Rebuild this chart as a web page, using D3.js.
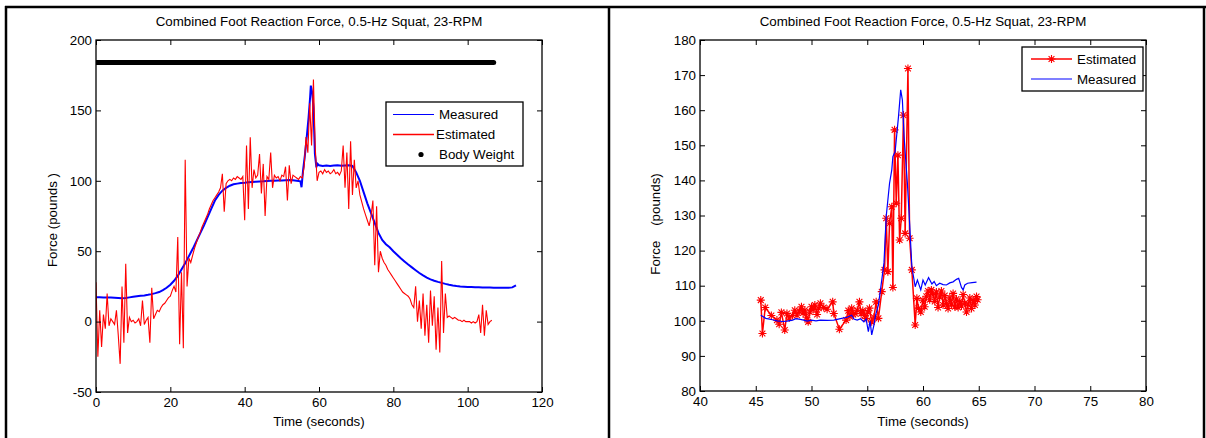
<!DOCTYPE html>
<html>
<head>
<meta charset="utf-8">
<script src="https://cdn.jsdelivr.net/npm/d3@7"></script>
<style>
body { margin: 0; background: #fff; }
svg { font-family: "Liberation Sans", Arial, sans-serif; font-size: 13.33px; }
</style>
</head>
<body>
<svg id="chart" width="1206" height="438"></svg>
<script>
// ---- left panel: whole trial ----
const titleText = "Combined Foot Reaction Force, 0.5-Hz Squat, 23-RPM";

const measTime = [0,1,2,3,4,5,6,7,8,9,10,11,12,13,14,15,16,17,18,19,20,21,22,23,24,25,26,27,28,29,30,
  31,32,33,34,35,36,37,38,39,40,41,42,43,44,45,46,47,48,49,50,51,52,53,54,55,55.3,55.7,56.2,56.7,57.2,
  57.6,57.8,58.2,58.5,58.9,59.3,59.6,60,61,62,63,64,65,66,67,68,69,70,71,72,73,74,75,76,77,78,79,80,
  81,82,83,84,85,86,87,88,89,90,91,92,93,94,95,96,97,98,99,100,101,102,103,104,105,106,107,108,109,
  110,111,112,113];
const measForce = [17.3,17.3,17.2,17.2,17.1,17.0,16.8,16.6,16.8,17.2,17.6,18.0,18.3,18.6,19.0,19.5,
  20.2,21.0,22.3,24.0,26.2,29.0,32.5,37.0,41.5,46.5,51.5,57,62.5,68,74,80,86,90,93,95,96.5,97.5,98,
  98.5,98.7,99,99.2,99.4,99.5,99.6,99.8,100,100,100.2,100.3,100.4,100.5,100.4,100,99.6,95.4,107,118,
  131,145,159,167.6,162,152,119,109.6,112,111,110.5,110.8,110.6,110.8,111,110.7,110.9,111,110.5,106,
  100,92,84,77,70,63,58,55,52.8,50,47.5,45,42.7,40.5,38.5,36.5,34.5,32.8,31.2,30,29,28.2,27.5,26.8,
  26.2,25.7,25.3,25,24.8,24.6,24.5,24.4,24.4,24.3,24.2,24.2,24.1,24.1,24,24,24,24.3,25.8];

// estimated force, one value every half second from t = 0
const estStep = 0.5;
const estForce = [28,-25,8,-18,5,-5,20,-3,2,0,-2,8,-10,-30,25,-15,41,-8,3,0,1,-1,0,2,-3,15,-2,1,3,-15,
  24,2,5,8,7,10,12,13,15,17,18,22,25,21,60,-16,35,-19,115,25,45,42,47,52,56,60,63,67,70,73,76,80,83,86,
  88,90,92,95,105,78,98,100,101,100,102,101,103,102,101,103,72,125,80,131,95,108,102,104,119,91,112,75,
  103,101,120,95,104,102,103,100,104,103,110,86,111,98,104,103,102,101,103,102,110,131,120,155,125,172,
  123,100,106,107,105,108,106,107,105,106,108,105,106,104,107,125,95,120,80,128,90,115,95,100,90,85,80,
  76,72,68,75,86,40,82,35,50,45,42,40,37,35,33,31,29,27,25,23,21,20,19,18,16,12,10,25,0,15,-5,20,-10,
  12,-15,22,-3,18,-20,10,-22,43,-8,20,3,4,3,2,3,2,1,1,0,1,0,0,0,-1,0,-1,0,5,-8,12,-10,8,-2,0,1];

const bodyWeight = 184;
const bodyWeightSpan = [0, 107];

const leftXTicks = [0, 20, 40, 60, 80, 100, 120];
const leftYTicks = [-50, 0, 50, 100, 150, 200];

// ---- right panel: zoom on the peak ----
const zEstTime = [45.45,45.6,45.85,46.4,46.9,47.1,47.3,47.6,47.8,48.0,48.3,48.5,48.7,48.9,49.1,49.25,
  49.4,49.55,49.7,49.85,50.0,50.15,50.3,50.5,50.65,50.8,51.1,51.4,51.9,52.0,52.5,53.1,53.3,53.45,53.6,
  53.75,53.9,54.1,54.3,54.45,54.6,54.75,54.9,55.05,55.2,55.4,55.6,55.8,56.0,56.3,56.55,56.7,56.85,57.0,
  57.2,57.3,57.45,57.6,57.75,57.9,58.05,58.25,58.4,58.65,58.8,59.0,59.3,59.45,59.6,59.8,60.0,60.15,
  60.3,60.45,60.6,60.75,60.9,61.05,61.2,61.35,61.5,61.65,61.8,61.95,62.1,62.25,62.4,62.55,62.7,62.85,
  63.0,63.15,63.3,63.45,63.6,63.75,63.9,64.05,64.2,64.35,64.5,64.65,64.8,64.9];
const zEstForce = [105.9,96.4,103.8,101.5,100.2,99.0,102.4,97.4,102.1,100.8,101.5,103.0,101.6,102.8,
  104.0,102.2,103.0,101.0,99.7,102.5,104.0,103.2,104.5,101.8,103.6,105.0,103.8,103.3,105.4,102.1,97.6,
  100.2,102.9,101.2,103.6,101.8,102.1,103.0,105.4,102.0,102.9,101.5,100.7,102.5,103.6,99.7,101.0,105.4,
  100.7,108.3,114.5,129.2,114.0,127.8,132.5,109.5,154.4,133.5,147.2,123.0,129.2,158.6,124.9,171.9,123.5,
  114.5,98.8,106.4,103.6,102.5,105.9,104.0,107.0,108.5,106.0,108.8,107.5,105.5,108.2,103.8,106.8,108.5,
  104.5,107.2,105.0,103.5,106.5,104.8,107.8,104.0,106.2,103.8,105.5,104.2,107.5,105.0,102.5,104.8,106.5,
  103.5,105.8,104.5,106.9,106.0];

const zMeasTime = [45.45,45.9,46.5,46.9,47.4,47.8,48.3,48.6,49.0,49.3,49.6,50.0,50.4,50.8,51.4,52.0,
  52.6,53.2,53.6,53.8,54.1,54.4,54.7,54.9,55.1,55.25,55.4,55.6,55.75,56.0,56.3,56.5,56.7,57.0,57.2,57.3,
  57.5,57.8,58.0,58.15,58.3,58.6,58.8,59.0,59.3,59.5,59.8,60.0,60.2,60.5,60.8,61.0,61.2,61.5,61.8,62.1,
  62.4,62.7,63.0,63.2,63.45,63.6,63.75,64.0,64.4,64.8];
const zMeasForce = [101.6,100.7,100.3,100.0,99.8,99.9,100.2,100.6,100.4,100.2,99.9,100.2,100.0,100.2,
  100.1,100.2,100.6,101.0,101.6,100.5,100.2,100.6,99.7,100.5,96.9,100.0,96.0,98.8,101.6,104.5,111.6,
  116.5,129.7,139.2,143.0,146.8,148.2,158.1,165.8,162.9,152.5,139.2,127.8,115.4,109.7,111.6,108.8,111.6,
  110.2,112.3,110.5,111.2,110.0,110.7,110.3,110.2,110.8,111.1,111.8,112.1,109.5,108.8,110.2,110.7,110.9,
  111.0];

const rightXTicks = [40, 45, 50, 55, 60, 65, 70, 75, 80];
const rightYTicks = [80, 90, 100, 110, 120, 130, 140, 150, 160, 170, 180];

const svg = d3.select("#chart");

// outer frame like the table cells of the source document
const frame = svg.append("g").attr("stroke", "#000").attr("stroke-width", 2.5);
frame.append("line").attr("x1", 5).attr("x2", 1206).attr("y1", 7).attr("y2", 7);
frame.append("line").attr("x1", 6).attr("x2", 6).attr("y1", 6).attr("y2", 438);
frame.append("line").attr("x1", 609).attr("x2", 609).attr("y1", 6).attr("y2", 438);
frame.append("line").attr("x1", 1204).attr("x2", 1204).attr("y1", 6).attr("y2", 438);

// plain hyphen for negatives, like the original figure
const fmt = d => String(d);

function matlabAxes(x, y, xt, yt, ylabel, ylabelX, ylabelY) {
  const g = svg.append("g");
  const [x0, x1] = x.range();
  const [y0, y1] = y.range();
  const tick = 5;

  g.append("g").attr("transform", `translate(0,${y0})`)
    .call(d3.axisBottom(x).tickValues(xt).tickFormat(fmt).tickSizeInner(-tick).tickSizeOuter(0).tickPadding(6));
  g.append("g").attr("transform", `translate(0,${y1})`)
    .call(d3.axisTop(x).tickValues(xt).tickSizeInner(-tick).tickSizeOuter(0).tickFormat(""));
  g.append("g").attr("transform", `translate(${x0},0)`)
    .call(d3.axisLeft(y).tickValues(yt).tickFormat(fmt).tickSizeInner(-tick).tickSizeOuter(0).tickPadding(4));
  g.append("g").attr("transform", `translate(${x1},0)`)
    .call(d3.axisRight(y).tickValues(yt).tickSizeInner(-tick).tickSizeOuter(0).tickFormat(""));

  g.selectAll(".domain").remove();
  g.selectAll(".tick line").attr("stroke", "#000");
  g.selectAll(".tick text").attr("fill", "#000").style("font-size", "13.33px")
    .style("font-family", "'Liberation Sans', Arial, sans-serif");

  g.append("rect").attr("x", x0).attr("y", y1).attr("width", x1 - x0).attr("height", y0 - y1)
    .attr("fill", "none").attr("stroke", "#000").attr("stroke-width", 1.3);

  const cx = (x0 + x1) / 2;
  g.append("text").attr("x", cx).attr("y", 26).attr("text-anchor", "middle").text(titleText);
  g.append("text").attr("x", cx).attr("y", 426).attr("text-anchor", "middle").text("Time (seconds)");
  g.append("text").attr("text-anchor", "middle").style("white-space", "pre")
    .attr("transform", `translate(${ylabelX},${ylabelY}) rotate(-90)`).text(ylabel);
  return g;
}

function clipFor(id, x, y) {
  const [x0, x1] = x.range();
  const [y0, y1] = y.range();
  svg.append("clipPath").attr("id", id).append("rect")
    .attr("x", x0).attr("y", y1).attr("width", x1 - x0).attr("height", y0 - y1);
}

const star = "M-4,0H4M0,-4V4M-2.9,-2.9L2.9,2.9M-2.9,2.9L2.9,-2.9";

// ---------- left panel ----------
const xL = d3.scaleLinear().domain([0, 120]).range([96, 542]);
const yL = d3.scaleLinear().domain([-50, 200]).range([392, 40]);
clipFor("clipL", xL, yL);

const plotL = svg.append("g").attr("clip-path", "url(#clipL)");

plotL.append("line")
  .attr("x1", xL(bodyWeightSpan[0])).attr("x2", xL(bodyWeightSpan[1]))
  .attr("y1", yL(bodyWeight)).attr("y2", yL(bodyWeight))
  .attr("stroke", "#000").attr("stroke-width", 5).attr("stroke-linecap", "round");

const measL = measTime.map((t, i) => [t, measForce[i]]);
const estL = estForce.map((v, i) => [i * estStep, v]);

plotL.append("path").datum(measL)
  .attr("fill", "none").attr("stroke", "#0000ff").attr("stroke-width", 2)
  .attr("d", d3.line().x(d => xL(d[0])).y(d => yL(d[1])));

plotL.append("path").datum(estL)
  .attr("fill", "none").attr("stroke", "#ff0000").attr("stroke-width", 1.1)
  .attr("d", d3.line().x(d => xL(d[0])).y(d => yL(d[1])));

matlabAxes(xL, yL, leftXTicks, leftYTicks, "Force (pounds )", 57, 220);

// legend left
const legL = svg.append("g").attr("transform", "translate(386,102)");
legL.append("rect").attr("width", 137).attr("height", 64)
  .attr("fill", "#fff").attr("stroke", "#000").attr("stroke-width", 1.3);
const legLItems = ["Measured", "Estimated", "Body Weight"];
legLItems.forEach((name, i) => {
  const yy = 12.5 + i * 20;
  if (i === 0) legL.append("line").attr("x1", 7).attr("x2", 48).attr("y1", yy).attr("y2", yy).attr("stroke", "#0000ff");
  if (i === 1) legL.append("line").attr("x1", 7).attr("x2", 48).attr("y1", yy).attr("y2", yy).attr("stroke", "#ff0000").attr("stroke-width", 1.3);
  if (i === 2) legL.append("circle").attr("cx", 35).attr("cy", yy).attr("r", 2.6).attr("fill", "#000");
  legL.append("text").attr("x", i === 1 ? 50 : 53).attr("y", yy + 4.7).text(name);
});

// ---------- right panel ----------
const xR = d3.scaleLinear().domain([40, 80]).range([700, 1146]);
const yR = d3.scaleLinear().domain([80, 180]).range([391, 40]);
clipFor("clipR", xR, yR);

const plotR = svg.append("g").attr("clip-path", "url(#clipR)");
const estR = zEstTime.map((t, i) => [t, zEstForce[i]]);
const measR = zMeasTime.map((t, i) => [t, zMeasForce[i]]);

plotR.append("path").datum(estR)
  .attr("fill", "none").attr("stroke", "#ff0000").attr("stroke-width", 1.5)
  .attr("d", d3.line().x(d => xR(d[0])).y(d => yR(d[1])));

plotR.selectAll("path.star").data(estR).enter().append("path")
  .attr("class", "star")
  .attr("transform", d => `translate(${xR(d[0])},${yR(d[1])})`)
  .attr("d", star).attr("fill", "none").attr("stroke", "#ff0000").attr("stroke-width", 1.1);

plotR.append("path").datum(measR)
  .attr("fill", "none").attr("stroke", "#0000ff").attr("stroke-width", 1.2)
  .attr("d", d3.line().x(d => xR(d[0])).y(d => yR(d[1])));

matlabAxes(xR, yR, rightXTicks, rightYTicks, "Force    (pounds)", 660, 224);

// legend right
const legR = svg.append("g").attr("transform", "translate(1022,47)");
legR.append("rect").attr("width", 121).attr("height", 44)
  .attr("fill", "#fff").attr("stroke", "#000").attr("stroke-width", 1.3);
legR.append("line").attr("x1", 9).attr("x2", 50).attr("y1", 12).attr("y2", 12)
  .attr("stroke", "#ff0000").attr("stroke-width", 1.5);
legR.append("path").attr("transform", "translate(29.5,12)").attr("d", star)
  .attr("fill", "none").attr("stroke", "#ff0000").attr("stroke-width", 1.1);
legR.append("text").attr("x", 55).attr("y", 16.7).text("Estimated");
legR.append("line").attr("x1", 9).attr("x2", 50).attr("y1", 32).attr("y2", 32)
  .attr("stroke", "#0000ff").attr("stroke-width", 1.2);
legR.append("text").attr("x", 55).attr("y", 36.7).text("Measured");
</script>
</body>
</html>
